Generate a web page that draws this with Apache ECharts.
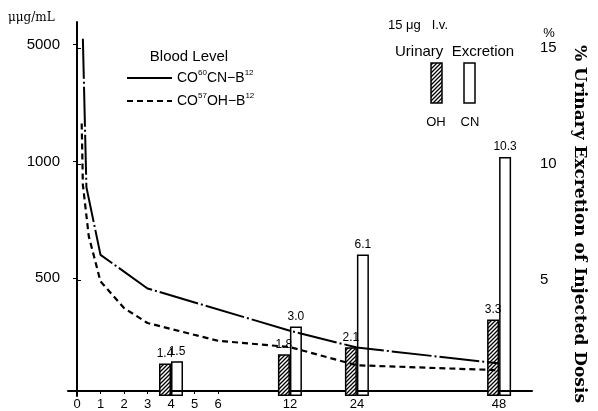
<!DOCTYPE html>
<html>
<head>
<meta charset="utf-8">
<script src="https://cdn.jsdelivr.net/npm/echarts@6/dist/echarts.min.js"></script>
<style>
  html, body { margin: 0; padding: 0; background: #fff; }
  #chart { width: 598px; height: 411px; }
</style>
</head>
<body>
<div id="chart"></div>
<script>
// Blood level after i.v. injection (hours, µµg/mL)
const cnHours = [0.25, 0.4, 1, 3, 12, 24, 48];
const cnLevel = [5200, 890, 600, 456, 275, 203, 135];
const ohHours = [0.2, 0.25, 0.5, 1, 2, 3, 6, 12, 24, 48];
const ohLevel = [2300, 900, 680, 486, 372, 308, 232, 205, 127, 106];

// Urinary excretion, % of injected dose, collected up to each time
const urineHours = [4, 12, 24, 48];
const urineOH = [1.4, 1.8, 2.1, 3.3];
const urineCN = [1.5, 3.0, 6.1, 10.3];

// Tick labels
const hourTicks = [0, 1, 2, 3, 4, 5, 6, 12, 24, 48];
const levelTicks = [500, 1000, 5000];
const pctTicks = [5, 10, 15];

// Time axis: hourly steps up to 6 h, then compressed segments.
const hourKnots = [0, 6, 12, 24, 48];
const hourPos = [0, 6, 9.06, 11.91, 17.96];
// Blood level axis: 500, 1000 and 5000 sit at equal steps.
const levelKnots = [0, 500, 1000, 5000];
const levelPos = [0, 5, 10, 15];

function piecewise(v, xs, ys) {
  let i = 1;
  while (i < xs.length - 1 && v > xs[i]) i++;
  const t = (v - xs[i - 1]) / (xs[i] - xs[i - 1]);
  return ys[i - 1] + t * (ys[i] - ys[i - 1]);
}
const toX = h => piecewise(h, hourKnots, hourPos);
const toLevel = v => piecewise(v, levelKnots, levelPos);

function labelFor(value, ticks, map) {
  for (const t of ticks) if (Math.abs(map(t) - value) < 1e-6) return String(t);
  return '';
}

// Diagonal hatch used for the OH bars and their key
function makeHatch() {
  const c = document.createElement('canvas');
  const s = 4;
  c.width = s; c.height = s;
  const g = c.getContext('2d');
  g.fillStyle = '#fff';
  g.fillRect(0, 0, s, s);
  g.strokeStyle = '#000';
  g.lineWidth = 1.3;
  g.beginPath();
  g.moveTo(-1, s + 1); g.lineTo(s + 1, -1);
  g.moveTo(-1, 1); g.lineTo(1, -1);
  g.moveTo(s - 1, s + 1); g.lineTo(s + 1, s - 1);
  g.stroke();
  return c;
}
const hatch = { image: makeHatch(), repeat: 'repeat' };

const X_MIN = -0.383, X_MAX = 19.36;
const FONT = 'Liberation Sans';

const chart = echarts.init(document.getElementById('chart'), null, { renderer: 'canvas' });

const xCommon = {
  type: 'value', min: X_MIN, max: X_MAX,
  splitLine: { show: false }
};

function txt(text, x, y, font, align) {
  return {
    type: 'text',
    style: {
      text: text, x: x, y: y, font: font, fill: '#000',
      align: align || 'left', textAlign: align || 'left',
      verticalAlign: 'middle', textVerticalAlign: 'middle'
    }
  };
}

const barLabel = {
  show: true, position: 'top', distance: 4, fontSize: 12, color: '#000',
  formatter: p => p.value[1].toFixed(1)
};

chart.setOption({
  animation: false,
  backgroundColor: '#fff',
  textStyle: { fontFamily: FONT, color: '#000' },
  grid: [
    { left: 68, right: 66, top: 22, bottom: 15 },
    { left: 68, right: 66, top: 48, bottom: 15 }
  ],
  xAxis: [
    Object.assign({}, xCommon, {
      gridIndex: 0,
      axisLine: { lineStyle: { color: '#000', width: 2 } },
      axisTick: { customValues: hourTicks.map(toX), length: 3, lineStyle: { color: '#000', width: 1 } },
      axisLabel: {
        customValues: hourTicks.map(toX), margin: 7, fontSize: 13, color: '#000',
        formatter: v => labelFor(v, hourTicks, toX)
      }
    }),
    Object.assign({}, xCommon, { gridIndex: 1, show: false })
  ],
  yAxis: [
    {
      type: 'value', gridIndex: 0, position: 'left', min: 0.169, max: 15.97,
      splitLine: { show: false },
      axisLine: { show: true, lineStyle: { color: '#000', width: 2 } },
      axisTick: { customValues: levelTicks.map(toLevel), length: 4, lineStyle: { color: '#000' } },
      axisLabel: {
        customValues: levelTicks.map(toLevel), margin: 8, fontSize: 15, color: '#000',
        formatter: v => labelFor(v, levelTicks, toLevel)
      }
    },
    {
      type: 'value', gridIndex: 1, position: 'right', min: 0, max: 15,
      splitLine: { show: false },
      axisLine: { show: true, lineStyle: { color: '#000', width: 2 } },
      axisTick: { customValues: pctTicks, length: 4, lineStyle: { color: '#000' } },
      axisLabel: {
        customValues: pctTicks, margin: 8, fontSize: 15, color: '#000',
        formatter: v => labelFor(v, pctTicks, x => x)
      }
    }
  ],
  legend: {
    orient: 'vertical', left: 121, top: 64,
    itemWidth: 45, itemHeight: 12, itemGap: 7,
    itemStyle: { opacity: 0 },
    data: [
      { name: 'CN', lineStyle: { type: 'solid' } },
      { name: 'OH' }
    ],
    formatter: n => n === 'CN'
      ? '{b|CO}{s|60}{b|CN−B}{s|12}'
      : '{b|CO}{s|57}{b|OH−B}{s|12}',
    textStyle: {
      rich: {
        b: { fontSize: 14, fontFamily: FONT, color: '#000', lineHeight: 18 },
        s: { fontSize: 8, fontFamily: FONT, color: '#000', verticalAlign: 'top', lineHeight: 10 }
      }
    }
  },
  graphic: [
    txt('μμg/mL', 8, 18, '12px "DejaVu Serif"'),
    txt('Blood Level', 189, 57, '15px "Liberation Sans"', 'center'),
    txt('15 μg   I.v.', 388, 25, '13px "Liberation Sans"'),
    txt('Urinary  Excretion', 395, 52, '15px "Liberation Sans"'),
    { type: 'rect', shape: { x: 431, y: 63, width: 11, height: 40 }, style: { fill: hatch, stroke: '#000', lineWidth: 1.5 } },
    { type: 'rect', shape: { x: 464, y: 63, width: 11, height: 40 }, style: { fill: 'none', stroke: '#000', lineWidth: 1.5 } },
    txt('OH', 436, 122, '13px "Liberation Sans"', 'center'),
    txt('CN', 470, 122, '13px "Liberation Sans"', 'center'),
    txt('%', 549, 33, '13px "Liberation Sans"', 'center'),
    {
      type: 'text', x: 579, y: 224, rotation: -Math.PI / 2,
      style: {
        text: '% Urinary Excretion of Injected Dosis', x: 0, y: 0,
        font: 'bold 17px "DejaVu Serif"', fill: '#000',
        align: 'center', textAlign: 'center', verticalAlign: 'middle', textVerticalAlign: 'middle'
      }
    }
  ],
  series: [
    {
      type: 'bar', name: 'OH urine', xAxisIndex: 1, yAxisIndex: 1,
      data: urineHours.map((h, i) => [toX(h), urineOH[i]]),
      barWidth: 12, barGap: '0%', z: 2,
      itemStyle: { color: hatch, borderColor: '#000', borderWidth: 1.5 },
      label: barLabel
    },
    {
      type: 'bar', name: 'CN urine', xAxisIndex: 1, yAxisIndex: 1,
      data: urineHours.map((h, i) => [toX(h), urineCN[i]]),
      barWidth: 12, barGap: '0%', z: 2,
      itemStyle: { color: 'rgba(255,255,255,0)', borderColor: '#000', borderWidth: 1.5 },
      label: barLabel
    },
    {
      type: 'line', name: 'CN', xAxisIndex: 0, yAxisIndex: 0,
      data: cnHours.map((h, i) => [toX(h), toLevel(cnLevel[i])]),
      symbol: 'none', showSymbol: false, z: 3,
      itemStyle: { color: '#000' },
      lineStyle: { color: '#000', width: 2, type: [40, 3, 2, 3] }
    },
    {
      type: 'line', name: 'OH', xAxisIndex: 0, yAxisIndex: 0,
      data: ohHours.map((h, i) => [toX(h), toLevel(ohLevel[i])]),
      symbol: 'none', showSymbol: false, z: 3, smooth: false,
      itemStyle: { color: '#000' },
      lineStyle: { color: '#000', width: 2.2, type: [6, 4] }
    }
  ]
});
</script>
</body>
</html>
